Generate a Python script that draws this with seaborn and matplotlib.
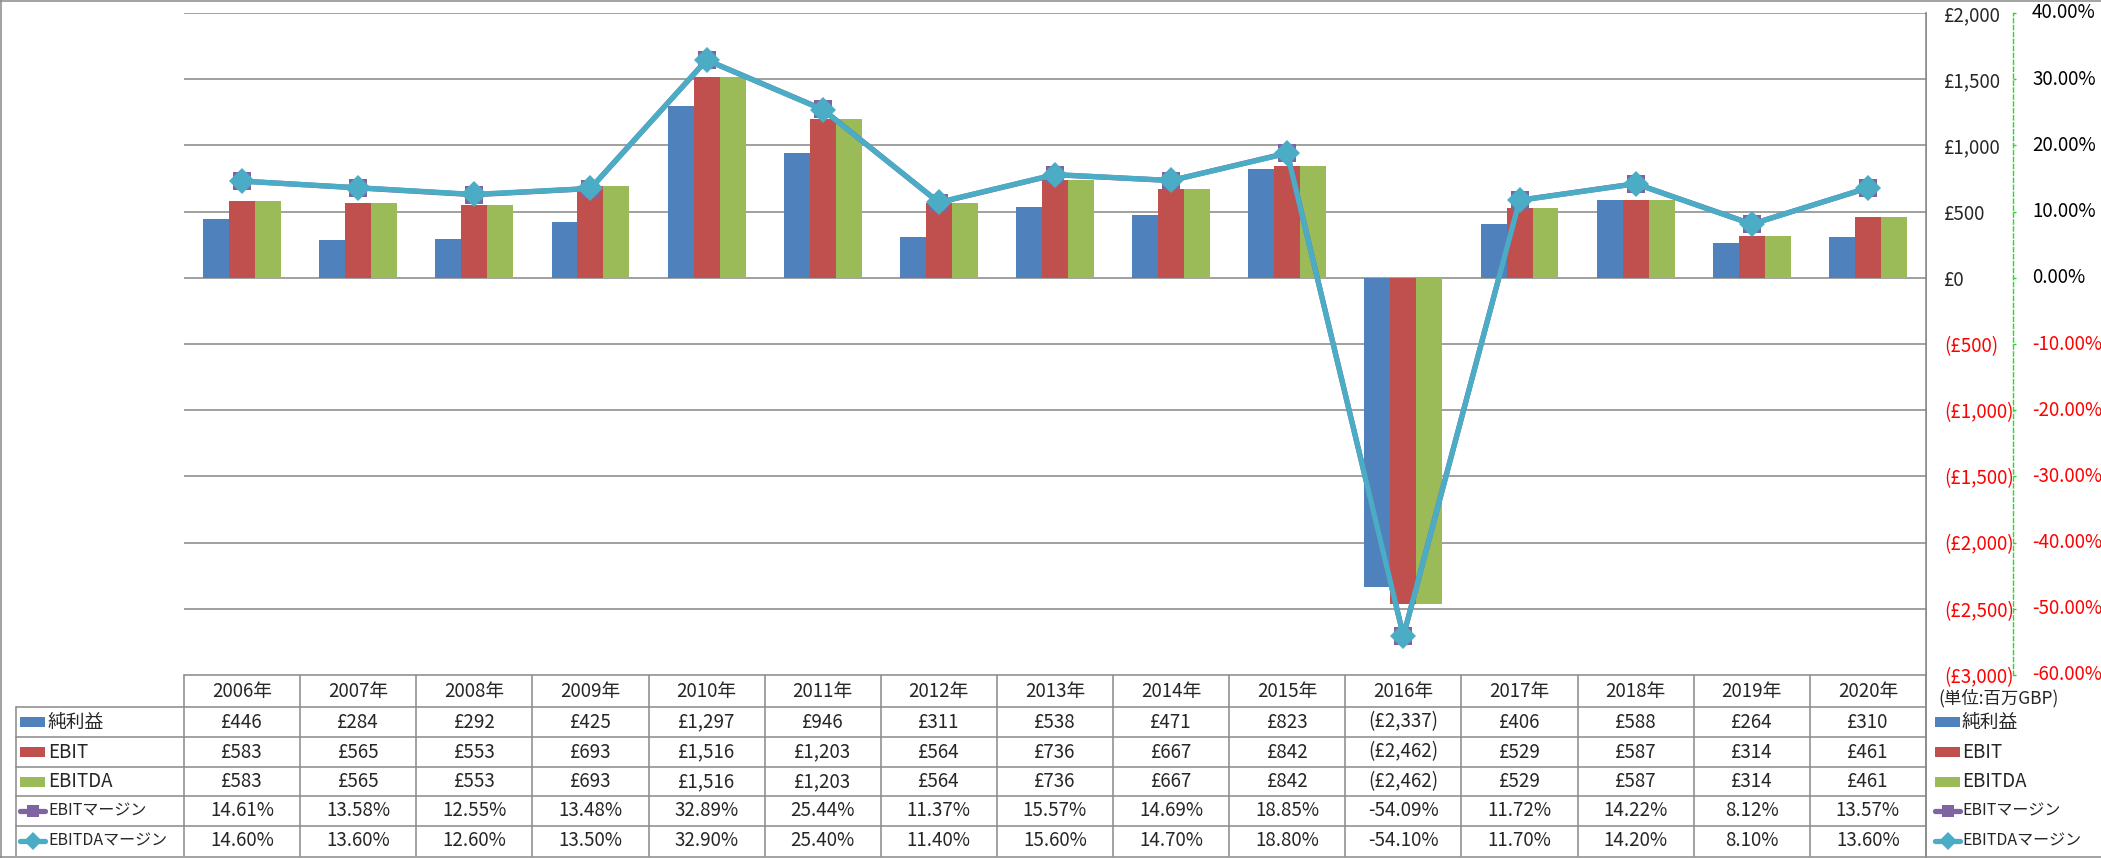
import numpy as np
import pandas as pd
import matplotlib
matplotlib.use('Agg')
import matplotlib.pyplot as plt
import matplotlib.transforms as mtransforms
from matplotlib.lines import Line2D
from matplotlib.patches import Rectangle
import seaborn as sns

# ── data (百万GBP) ───────────────────────────────────────────
years = [f"{y}年" for y in range(2006, 2021)]
net_income = [446, 284, 292, 425, 1297, 946, 311, 538, 471, 823, -2337, 406, 588, 264, 310]
ebit = [583, 565, 553, 693, 1516, 1203, 564, 736, 667, 842, -2462, 529, 587, 314, 461]
ebitda = [583, 565, 553, 693, 1516, 1203, 564, 736, 667, 842, -2462, 529, 587, 314, 461]
ebit_margin = [14.61, 13.58, 12.55, 13.48, 32.89, 25.44, 11.37, 15.57, 14.69, 18.85,
               -54.09, 11.72, 14.22, 8.12, 13.57]
ebitda_margin = [14.60, 13.60, 12.60, 13.50, 32.90, 25.40, 11.40, 15.60, 14.70, 18.80,
                 -54.10, 11.70, 14.20, 8.10, 13.60]
series_names = ["純利益", "EBIT", "EBITDA", "EBITマージン", "EBITDAマージン"]
money_ticks = list(range(-3000, 2001, 500))
pct_ticks = list(range(-60, 41, 10))
unit_note = "(単位:百万GBP)"

bar_colors = ["#4F81BD", "#C0504D", "#9BBB59"]
line_colors = ["#8064A2", "#4BACC6"]
grid_c = "#868686"
neg_c = "#FF0000"
FS = 13.5


def money(v):
    return f"£{v:,}" if v >= 0 else f"(£{-v:,})"


sns.set_style("white")
plt.rcParams['font.family'] = ['Noto Sans CJK JP', 'DejaVu Sans']

W, H = 2101, 858
fig = plt.figure(figsize=(W / 100, H / 100), dpi=100)

# table / frame layer in pixel coordinates
tab = fig.add_axes([0, 0, 1, 1])
tab.set_xlim(0, W); tab.set_ylim(H, 0); tab.axis("off")

# plot area (pixels)
px_l, px_r, px_t, px_b = 184, 1926, 13, 675
ax = fig.add_axes([px_l / W, 1 - px_b / H, (px_r - px_l) / W, (px_b - px_t) / H])

df = pd.DataFrame({
    "year": years * 3,
    "value": net_income + ebit + ebitda,
    "series": [n for n in series_names[:3] for _ in years],
})
sns.barplot(data=df, x="year", y="value", hue="series", palette=bar_colors,
            width=0.67, saturation=1, errorbar=None, legend=False,
            linewidth=0, ax=ax, zorder=2)

# margins on secondary axis
ax2 = ax.twinx()
sns.lineplot(x=years, y=ebit_margin, ax=ax2, color=line_colors[0], lw=3.8,
             marker="s", markersize=13, markeredgewidth=0, sort=False, zorder=3)
sns.lineplot(x=years, y=ebitda_margin, ax=ax2, color=line_colors[1], lw=3.8,
             marker="D", markersize=13, markeredgewidth=0, sort=False, zorder=4)

ax.set_ylim(-3000, 2000)
ax.yaxis.tick_right()
ax.tick_params(axis="y", length=0, pad=13, labelsize=FS)
ax.set_yticks(money_ticks)
ax.set_yticklabels([money(v) for v in money_ticks])
ax.grid(axis="y", color=grid_c, lw=1.1)
ax.set_axisbelow(True)
for s in ["top", "left", "bottom"]:
    ax.spines[s].set_visible(False)
ax.spines["right"].set_color(grid_c); ax.spines["right"].set_linewidth(1.1)
ax.set_xlabel(""); ax.set_ylabel("")

ax2.spines["right"].set_position(("outward", 62.6))
ax2.spines["right"].set_color("#22DD22")
ax2.spines["right"].set_linestyle((0, (3, 2)))
ax2.spines["right"].set_linewidth(1)
for s in ["top", "left", "bottom"]:
    ax2.spines[s].set_visible(False)
ax2.set_ylim(-60, 40)
ax2.set_yticks(pct_ticks)
ax2.tick_params(axis="y", length=2.5, width=1, color="#22DD22", labelright=False)
ax2.set_xlabel(""); ax2.set_ylabel("")
# percentage labels, placed beside the green axis
pct_tr = ax2.get_yaxis_transform() + mtransforms.ScaledTranslation(1.06, 0, fig.dpi_scale_trans)
for v in pct_ticks:
    ax2.text(1, v, f"{v:.2f}%", transform=pct_tr, ha="left", va="center",
             fontsize=FS, color=neg_c if v < 0 else "black", clip_on=False)

ax.set_xlim(-0.5, len(years) - 0.5)
ax.set_xticks([])
ax2.tick_params(axis="x", bottom=False, labelbottom=False)

# ── data table ───────────────────────────────────────────────
col_w = (px_r - px_l) / len(years)
col_x = [px_l + col_w * k for k in range(len(years) + 1)]
row_y = [675, 707, 737, 767, 796, 826, 856]
lc = "#898989"
lk = dict(color=lc, lw=1.1)

tab.plot([px_l, px_r], [row_y[0]] * 2, **lk)
for y in row_y[1:-1]:
    tab.plot([16, px_r], [y, y], **lk)
for x in col_x:
    tab.plot([x, x], [row_y[0], row_y[-1]], **lk)
tab.plot([16, 16], [row_y[1], row_y[-1]], **lk)
tab.plot([px_r, px_r], [px_t, H], **lk)
# outer frame
tab.plot([0, W], [1, 1], **lk)
tab.plot([1, 1], [0, H], **lk)
tab.plot([0, W], [856.5, 856.5], **lk)

hy = (row_y[0] + row_y[1]) / 2
for i, yl in enumerate(years):
    tab.text(col_x[i] + col_w / 2, hy, yl, ha="center", va="center", fontsize=FS)

rows = [[money(v) for v in net_income],
        [money(v) for v in ebit],
        [money(v) for v in ebitda],
        [f"{v:.2f}%" for v in ebit_margin],
        [f"{v:.2f}%" for v in ebitda_margin]]
for r, vals in enumerate(rows):
    cy = (row_y[r + 1] + row_y[r + 2]) / 2
    for i, t in enumerate(vals):
        tab.text(col_x[i] + col_w / 2, cy, t, ha="center", va="center", fontsize=FS)


def legend_key(x0, cy, r):
    if r < 3:
        tab.add_patch(Rectangle((x0, cy - 5), 25, 10, color=bar_colors[r], lw=0))
    else:
        c = line_colors[r - 3]
        tab.add_line(Line2D([x0, x0 + 25], [cy, cy], color=c, lw=3.8))
        tab.add_line(Line2D([x0 + 12.5], [cy], color=c, marker="s" if r == 3 else "D",
                            markersize=9, markeredgewidth=0))


for r, name in enumerate(series_names):
    cy = (row_y[r + 1] + row_y[r + 2]) / 2
    fs = 13.5 if r < 3 else 11.5
    legend_key(20, cy, r)
    tab.text(48, cy, name, ha="left", va="center", fontsize=fs)
    legend_key(1935, cy, r)
    tab.text(1962, cy, name, ha="left", va="center", fontsize=fs)

tab.text(1938, 698, unit_note, ha="left", va="center", fontsize=12.5)

# negative £ tick labels in red
fig.canvas.draw()
for t in ax.yaxis.get_major_ticks():
    for lbl in (t.label1, t.label2):
        if lbl.get_text().startswith("("):
            lbl.set_color(neg_c)

plt.savefig("out.png", dpi=100)
plt.close()
